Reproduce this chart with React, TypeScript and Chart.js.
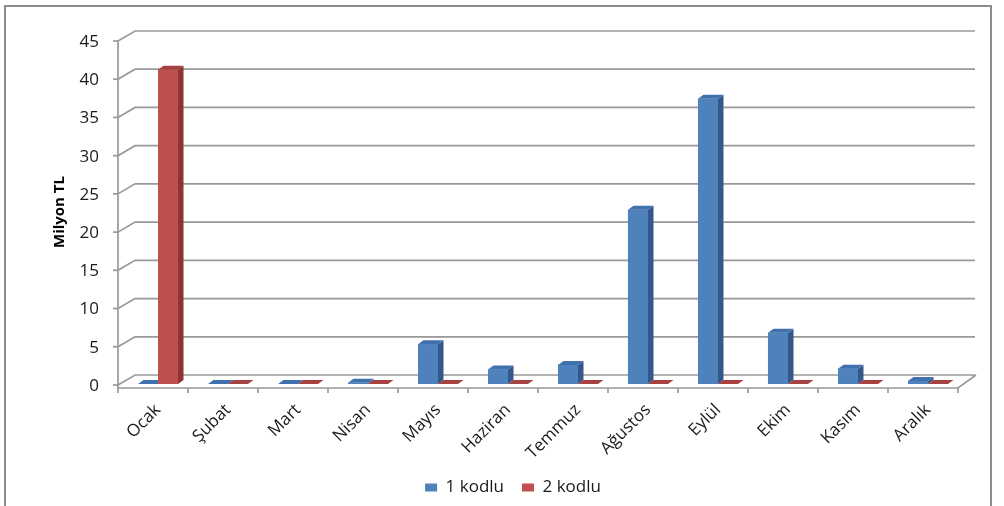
import React, { useEffect, useRef } from "react";
import { Chart, registerables } from "chart.js";

Chart.register(...registerables);

const categories = ["Ocak", "Şubat", "Mart", "Nisan", "Mayıs", "Haziran", "Temmuz", "Ağustos", "Eylül", "Ekim", "Kasım", "Aralık"];
const kodlu1 = [0, 0, 0, 0.15, 5.2, 1.9, 2.5, 22.8, 37.3, 6.7, 2.0, 0.4];
const kodlu2 = [41.1, 0, 0, 0, 0, 0, 0, 0, 0, 0, 0, 0];
const yTicks = [0, 5, 10, 15, 20, 25, 30, 35, 40, 45];
const seriesNames = ["1 kodlu", "2 kodlu"];

const FONT = "'Open Sans', 'DejaVu Sans', sans-serif";
const COLORS = [
  { front: "#4F81BD", side: "#34588A", top: "#4171AC" },
  { front: "#C0504D", side: "#8A3532", top: "#A5423F" },
];

const FX = -5, FY = 1; // front plane offset from bar plane
const BX = 12, BY = -9; // back plane offset from bar plane
const DX = 5.5, DY = -4; // bar depth

const threeD = {
  id: "threeD",
  beforeDraw(chart: any) {
    const ctx = chart.ctx;
    ctx.save();
    ctx.fillStyle = "#ffffff";
    ctx.fillRect(0, 0, chart.width, chart.height);
    ctx.strokeStyle = "#8c8c8c";
    ctx.lineWidth = 2;
    ctx.strokeRect(5, 6, 986, 520);
    ctx.restore();
  },
  beforeDatasetsDraw(chart: any) {
    const { ctx, chartArea } = chart;
    const y = chart.scales.y;
    const { left, right } = chartArea;
    const y0 = y.getPixelForValue(0);
    const yTop = y.getPixelForValue(yTicks[yTicks.length - 1]);
    ctx.save();
    ctx.strokeStyle = "#999999";
    ctx.lineWidth = 1.7;
    for (const v of yTicks) {
      const py = y.getPixelForValue(v);
      ctx.beginPath();
      ctx.moveTo(left + FX, py + FY);
      ctx.lineTo(left + BX, py + BY);
      ctx.lineTo(right + BX, py + BY);
      ctx.stroke();
      ctx.beginPath();
      ctx.moveTo(left + FX - 5, py + FY);
      ctx.lineTo(left + FX, py + FY);
      ctx.stroke();
    }
    // front y axis line
    ctx.beginPath();
    ctx.moveTo(left + FX, yTop + FY);
    ctx.lineTo(left + FX, y0 + 5);
    ctx.stroke();
    // floor front edge + right edge
    ctx.beginPath();
    ctx.moveTo(left + FX, y0 + 4);
    ctx.lineTo(right + FX, y0 + 4);
    ctx.lineTo(right + BX + 1, y0 + BY);
    ctx.stroke();
    // x tick marks
    const n = categories.length;
    const w = (right - left) / n;
    for (let i = 0; i <= n; i++) {
      const px = left + FX + i * w;
      ctx.beginPath();
      ctx.moveTo(px, y0 + 4);
      ctx.lineTo(px, y0 + 9);
      ctx.stroke();
    }
    ctx.restore();
  },
  afterDatasetsDraw(chart: any) {
    const ctx = chart.ctx;
    ctx.save();
    const n = categories.length;
    for (let i = 0; i < n; i++) {
      for (let d = 0; d < chart.data.datasets.length; d++) {
        const el = chart.getDatasetMeta(d).data[i];
        if (!el) continue;
        const p = el.getProps(["x", "y", "base", "width"], true);
        const l = p.x - p.width / 2;
        const r = p.x + p.width / 2;
        const t = Math.min(p.y, p.base);
        const b = p.base;
        const c = COLORS[d];
        if (b - t > 0.5) {
          ctx.fillStyle = c.front;
          ctx.fillRect(l, t, r - l, b - t);
          ctx.fillStyle = c.side;
          ctx.beginPath();
          ctx.moveTo(r, t);
          ctx.lineTo(r + DX, t + DY);
          ctx.lineTo(r + DX, b + DY);
          ctx.lineTo(r, b);
          ctx.closePath();
          ctx.fill();
        }
        ctx.fillStyle = c.top;
        ctx.beginPath();
        ctx.moveTo(l, t);
        ctx.lineTo(r, t);
        ctx.lineTo(r + DX, t + DY);
        ctx.lineTo(l + DX, t + DY);
        ctx.closePath();
        ctx.fill();
      }
    }
    ctx.restore();
  },
};

export default function App() {
  const ref = useRef<HTMLCanvasElement>(null);
  useEffect(() => {
    if (!ref.current) return;
    const chart = new Chart(ref.current, {
      type: "bar",
      data: {
        labels: categories,
        datasets: [
          { label: seriesNames[0], data: kodlu1, backgroundColor: COLORS[0].front, borderWidth: 0 },
          { label: seriesNames[1], data: kodlu2, backgroundColor: COLORS[1].front, borderWidth: 0 },
        ],
      },
      options: {
        responsive: false,
        animation: false,
        devicePixelRatio: 1,
        layout: { padding: { left: 63, right: 41, top: 40, bottom: 0 } },
        datasets: { bar: { categoryPercentage: 0.572, barPercentage: 1 } },
        plugins: {
          tooltip: { enabled: false },
          legend: {
            position: "bottom",
            labels: {
              boxWidth: 12,
              boxHeight: 8,
              padding: 18,
              color: "#1a1a1a",
              font: { family: FONT, size: 17 },
            },
          },
        },
        scales: {
          x: {
            grid: { display: false, drawTicks: false },
            border: { display: false },
            ticks: {
              autoSkip: false,
              maxRotation: 45,
              minRotation: 45,
              padding: 16,
              color: "#1a1a1a",
              font: { family: FONT, size: 17 },
            },
            afterFit(scale: any) {
              scale.height = 77;
            },
          },
          y: {
            min: 0,
            max: 45,
            grid: { display: false, drawTicks: false },
            border: { display: false },
            ticks: {
              stepSize: 5,
              padding: 24,
              labelOffset: 2,
              color: "#1a1a1a",
              font: { family: FONT, size: 17 },
            },
            title: {
              display: true,
              text: "Milyon TL",
              color: "#000",
              font: { family: FONT, size: 15, weight: "bold" },
              padding: { top: -12.5, bottom: 0 },
            },
            afterFit(scale: any) {
              scale.width = 60;
            },
          },
        },
      },
      plugins: [threeD],
    });
    return () => chart.destroy();
  }, []);
  return (
    <div style={{ position: "fixed", left: 0, top: 0, width: 1004, height: 506, background: "#fff" }}>
      <canvas ref={ref} width={1004} height={506} />
    </div>
  );
}
